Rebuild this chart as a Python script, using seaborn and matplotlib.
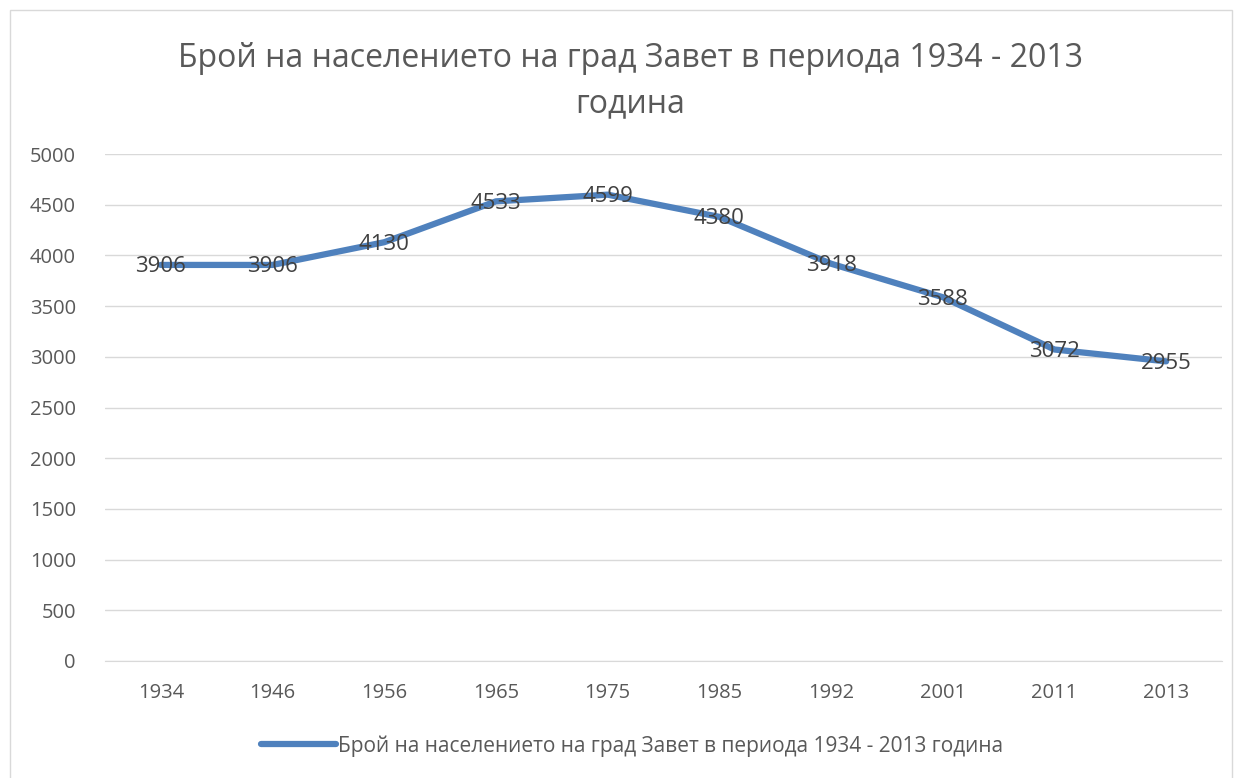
import pandas as pd
import matplotlib.pyplot as plt
import seaborn as sns
from matplotlib.patches import Rectangle

# Dados
anos = ['1934', '1946', '1956', '1965', '1975', '1985', '1992', '2001', '2011', '2013']
populacao = [3906, 3906, 4130, 4533, 4599, 4380, 3918, 3588, 3072, 2955]
titulo = 'Брой на населението на град Завет в периода 1934 - 2013\nгодина'
serie = 'Брой на населението на град Завет в периода 1934 - 2013 година'

df = pd.DataFrame({'ano': anos, 'pop': populacao})
df['pos'] = range(len(df))

sns.set_style('white')
plt.rcParams['font.family'] = ['Open Sans', 'DejaVu Sans']

fig = plt.figure(figsize=(12.39, 7.78), dpi=100)
ax = fig.add_axes([105 / 1239, 1 - 661 / 778, (1222 - 105) / 1239, (661 - 154) / 778])

# borda da figura
fig.patches.append(Rectangle((10 / 1239, -0.01), 1222 / 1239, 1 - 10 / 778 + 0.01,
                             transform=fig.transFigure, fill=False,
                             edgecolor='#d9d9d9', linewidth=1))

sns.lineplot(data=df, x='pos', y='pop', ax=ax, color='#4f81bd', linewidth=4.5,
             label=serie, legend=False, solid_capstyle='round')

for i, v in zip(df['pos'], df['pop']):
    ax.text(i, v - 20, str(v), ha='center', va='center', fontsize=16, color='#404040')

ax.set_xlim(-0.5, len(anos) - 0.5)
ax.set_ylim(0, 5000)
ax.set_yticks(range(0, 5001, 500))
ax.set_xticks(df['pos'])
ax.set_xticklabels(anos)
ax.grid(axis='y', color='#d9d9d9', linewidth=1)
ax.set_axisbelow(True)
for s in ['top', 'right', 'left']:
    ax.spines[s].set_visible(False)
ax.spines['bottom'].set_color('#d9d9d9')
ax.tick_params(axis='both', length=0, labelsize=14.5, colors='#595959')
ax.tick_params(axis='y', pad=21)
ax.tick_params(axis='x', pad=16)
ax.set_xlabel('')
ax.set_ylabel('')

fig.text(630 / 1239, 1 - 81 / 778, titulo, ha='center', va='center',
         fontsize=23, color='#595959', linespacing=1.5)

handles, labels = ax.get_legend_handles_labels()
fig.legend(handles, labels, loc='center', bbox_to_anchor=(632 / 1239, 1 - 746 / 778),
           frameon=False, fontsize=15, labelcolor='#595959', handlelength=3.6,
           handletextpad=0.1)

plt.savefig('out.png', dpi=100)
plt.close()
